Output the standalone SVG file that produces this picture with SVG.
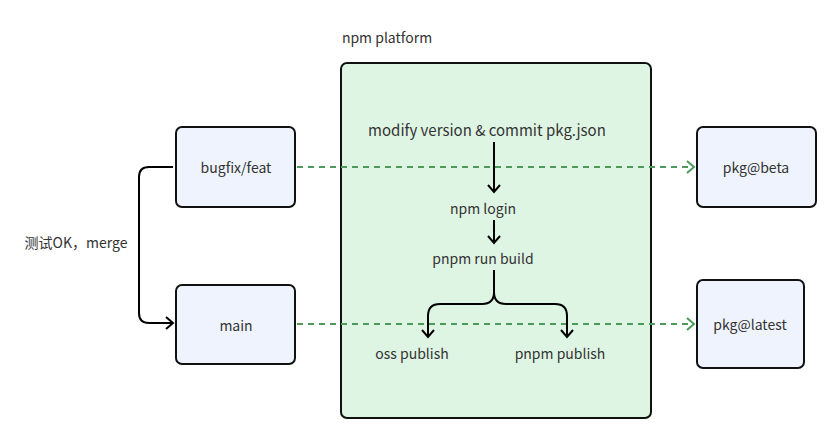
<svg xmlns="http://www.w3.org/2000/svg" width="840" height="443" viewBox="0 0 840 443">
<style>
text{font-family:"Noto Sans CJK SC","Noto Sans",sans-serif;font-size:14px;fill:#333;text-anchor:middle;dominant-baseline:central}
.box{fill:#eef3fd;stroke:#111;stroke-width:2}
.plat{fill:#dff5e4;stroke:#111;stroke-width:2}
.flow{fill:none;stroke:#000;stroke-width:2}
.dash{fill:none;stroke:#4d9a5c;stroke-width:2;stroke-dasharray:6 5}
</style>
<defs>
<marker id="ab" markerWidth="14" markerHeight="14" refX="10" refY="7" orient="auto" markerUnits="userSpaceOnUse"><path d="M3,1 L10,7 L3,13" fill="none" stroke="#000" stroke-width="2"/></marker>
<marker id="ag" markerWidth="14" markerHeight="14" refX="10" refY="7" orient="auto" markerUnits="userSpaceOnUse"><path d="M3,1 L10,7 L3,13" fill="none" stroke="#4d9a5c" stroke-width="2"/></marker>
</defs>
<g id="platform">
<rect class="plat" x="341" y="63" width="310" height="355" rx="6"/>
<text x="387" y="37">npm platform</text>
</g>
<g id="bugfix"><rect class="box" x="176" y="127" width="119" height="80" rx="6"/><text x="236" y="167">bugfix/feat</text></g>
<g id="main"><rect class="box" x="176" y="285" width="119" height="79" rx="6"/><text x="236" y="325">main</text></g>
<g id="beta"><rect class="box" x="697" y="127" width="119" height="80" rx="6"/><text x="756" y="167">pkg@beta</text></g>
<g id="latest"><rect class="box" x="697" y="280" width="107" height="88" rx="6"/><text x="750" y="324">pkg@latest</text></g>
<g id="steps">
<text x="487" y="129" style="font-size:15px">modify version &amp; commit pkg.json</text>
<text x="483" y="208">npm login</text>
<text x="483" y="258">pnpm run build</text>
<text x="412" y="353">oss publish</text>
<text x="560" y="353">pnpm publish</text>
</g>
<text x="76" y="242">测试OK，merge</text>
<g id="connectors">
<path class="flow" d="M173,167 H149 Q139,167 139,177 V313 Q139,323 149,323 H173" marker-end="url(#ab)"/>
<path class="dash" d="M297,167 H694" marker-end="url(#ag)"/>
<path class="dash" d="M297,324 H694" marker-end="url(#ag)"/>
<path class="flow" d="M494,142 V192" marker-end="url(#ab)"/>
<path class="flow" d="M494,220 V243" marker-end="url(#ab)"/>
<path class="flow" d="M494,270 V292 Q494,304 482,304 H440 Q428,304 428,316 V337" marker-end="url(#ab)"/>
<path class="flow" d="M494,292 Q494,304 506,304 H555 Q567,304 567,316 V337" marker-end="url(#ab)"/>
</g>
</svg>
